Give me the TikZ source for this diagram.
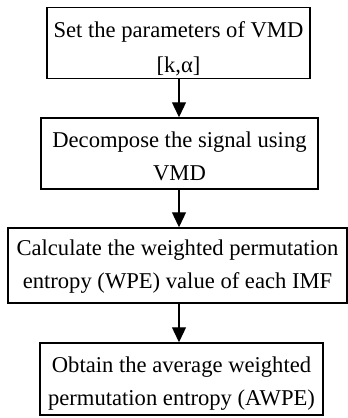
\documentclass[tikz,border=0pt]{standalone}
\usepackage{fontspec}
\setmainfont{Liberation Serif}
\usetikzlibrary{positioning}
\usetikzlibrary{arrows.meta}

\tikzset{
  stepbox/.style={draw, line width=1.5pt, align=center, inner sep=0pt,
    text depth=6pt, font=\fontsize{22.6}{33}\selectfont},
  flow/.style={line width=1.3pt, -{Triangle[width=14pt,length=15pt]}}
}

\begin{document}
\begin{tikzpicture}
\useasboundingbox (0,0) rectangle (348pt,-418pt);

% text height fixes where the last line sits in each box
\node[stepbox, minimum width=263pt, minimum height=70pt, text height=65pt] (setpar) at (178.5pt,-43pt)
  {Set the parameters of VMD\\[2pt] {[k,α]}};
\node[stepbox, minimum width=277pt, minimum height=71pt, text height=59pt] (decomp) at (179.5pt,-153.5pt)
  {Decompose the signal using\\ VMD};
\node[stepbox, minimum width=339pt, minimum height=75pt, text height=51pt] (calcwpe) at (177.5pt,-265.5pt)
  {Calculate the weighted permutation\\ entropy (WPE) value of each IMF};
\node[stepbox, minimum width=283pt, minimum height=72pt, text height=58pt] (awpe) at (181.5pt,-379pt)
  {Obtain the average weighted\\ permutation entropy (AWPE)};

% arrows all run down one vertical line
\coordinate (axis) at (179pt,0);
\draw[flow] (setpar.south -| axis) -- (decomp.north -| axis);
\draw[flow] (decomp.south -| axis) -- (calcwpe.north -| axis);
\draw[flow] (calcwpe.south -| axis) -- (awpe.north -| axis);

\end{tikzpicture}
\end{document}
